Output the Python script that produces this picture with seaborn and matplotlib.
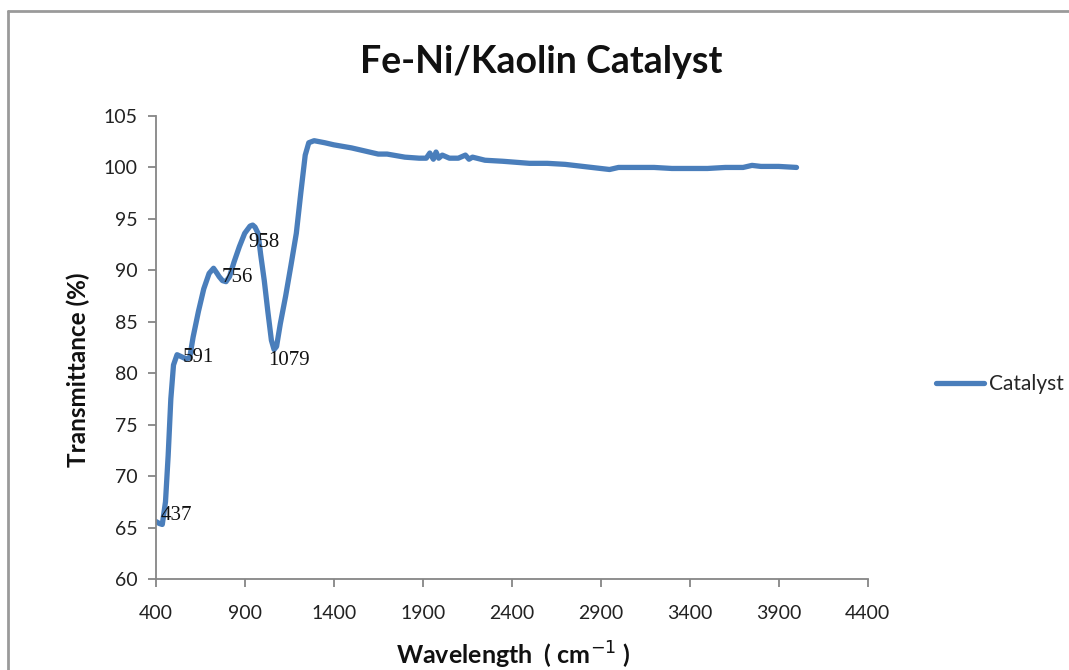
import numpy as np
import matplotlib
matplotlib.use("Agg")
import matplotlib.pyplot as plt
from matplotlib.lines import Line2D
import seaborn as sns

# FTIR spectrum of the Fe-Ni/Kaolin catalyst
wavenumber = [400, 420, 437, 455, 470, 485, 500, 520, 545, 570, 591, 610, 640,
              670, 700, 725, 745, 756, 775, 795, 815, 840, 870, 900, 930, 945,
              958, 975, 990, 1010, 1030, 1050, 1065, 1079, 1100, 1130, 1160,
              1190, 1215, 1240, 1260, 1290, 1350, 1400, 1500, 1600, 1650, 1700,
              1800, 1880, 1920, 1940, 1960, 1975, 1990, 2010, 2050, 2100, 2140,
              2160, 2180, 2250, 2350, 2500, 2600, 2700, 2800, 2900, 2950, 3000,
              3100, 3200, 3300, 3400, 3500, 3600, 3700, 3750, 3800, 3900, 4000]
transmittance = [65.6, 65.4, 65.3, 67.5, 72.0, 77.5, 80.8, 81.8, 81.6, 81.4,
                 81.5, 83.5, 86.0, 88.2, 89.7, 90.2, 89.7, 89.4, 89.0, 88.9,
                 89.4, 90.8, 92.3, 93.6, 94.3, 94.4, 94.2, 93.6, 91.5, 89.0,
                 86.0, 83.2, 82.3, 82.6, 84.8, 87.5, 90.5, 93.6, 97.5, 101.2,
                 102.4, 102.6, 102.4, 102.2, 101.9, 101.5, 101.3, 101.3, 101.0,
                 100.9, 100.9, 101.4, 100.8, 101.5, 100.9, 101.2, 100.9, 100.9,
                 101.2, 100.8, 101.0, 100.7, 100.6, 100.4, 100.4, 100.3, 100.1,
                 99.9, 99.8, 100.0, 100.0, 100.0, 99.9, 99.9, 99.9, 100.0, 100.0,
                 100.2, 100.1, 100.1, 100.0]

# Annotated band positions (cm-1)
peak_labels = [437, 591, 756, 958, 1079]
# Label offsets in pixels relative to the curve at each band
peak_offsets = [(-2, 9), (-7, 0), (3, -1), (-7, -15), (-8, -14)]

x_ticks = [400, 900, 1400, 1900, 2400, 2900, 3400, 3900, 4400]
y_ticks = [60, 65, 70, 75, 80, 85, 90, 95, 100, 105]

sns.set_style("white")
plt.rcParams["font.family"] = ["Lato", "DejaVu Sans"]

W, H = 1069, 670
fig = plt.figure(figsize=(W / 100, H / 100), dpi=100)
ax = fig.add_axes([155.7 / W, 1 - 579 / H, (867.7 - 155.7) / W, (579 - 116) / H])

line_color = "#4A7EBB"
sns.lineplot(x=wavenumber, y=transmittance, ax=ax, color=line_color,
             linewidth=3.8, sort=False, label="Catalyst")

ax.set_xlim(400, 4400)
ax.set_ylim(60, 105)
ax.set_xticks(x_ticks)
ax.set_yticks(y_ticks)
ax.set_xticklabels([str(t) for t in x_ticks])
ax.set_yticklabels([str(t) for t in y_ticks])

spine_color = "#868686"
for side in ("top", "right"):
    ax.spines[side].set_visible(False)
for side in ("left", "bottom"):
    ax.spines[side].set_color(spine_color)
    ax.spines[side].set_linewidth(1.3)
ax.tick_params(axis="both", which="major", direction="out", length=6,
               width=1.3, color=spine_color, labelsize=14, labelcolor="#222222",
               left=True, bottom=True)
ax.tick_params(axis="x", pad=13)
ax.tick_params(axis="y", pad=7)

for wn, (dx, dy) in zip(peak_labels, peak_offsets):
    yv = float(np.interp(wn, wavenumber, transmittance))
    ax.annotate(str(wn), xy=(wn, yv), xytext=(dx, dy), textcoords="offset pixels",
                ha="left", va="center", fontsize=15, family="Liberation Serif",
                color="#111111")

fig.text(541 / W, 1 - 62 / H, "Fe-Ni/Kaolin Catalyst", ha="center", va="center",
         fontsize=27, fontweight="bold", color="#111111")
fig.text(78 / W, 1 - 370 / H, "Transmittance (%)", ha="center", va="center",
         rotation=90, fontsize=17.5, fontweight="bold", color="#111111")
fig.text(513 / W, 1 - 655 / H, "Wavelength  ( cm$^{-1}$ )", ha="center",
         va="center", fontsize=18, fontweight="bold", color="#111111")

leg = ax.legend(loc="center left", bbox_to_anchor=(928 / W, 1 - 384 / H),
                bbox_transform=fig.transFigure, frameon=False, fontsize=15,
                handlelength=2.3, handletextpad=0.25, borderaxespad=0)
for h in leg.get_lines():
    h.set_linewidth(3.8)

# Chart area border
fig.add_artist(Line2D([8 / W, 8 / W], [0, 1 - 11 / H], transform=fig.transFigure,
                      color="#9a9a9a", linewidth=2))
fig.add_artist(Line2D([8 / W, 1], [1 - 11 / H, 1 - 11 / H], transform=fig.transFigure,
                      color="#9a9a9a", linewidth=2))

fig.savefig("out.png", dpi=100)
